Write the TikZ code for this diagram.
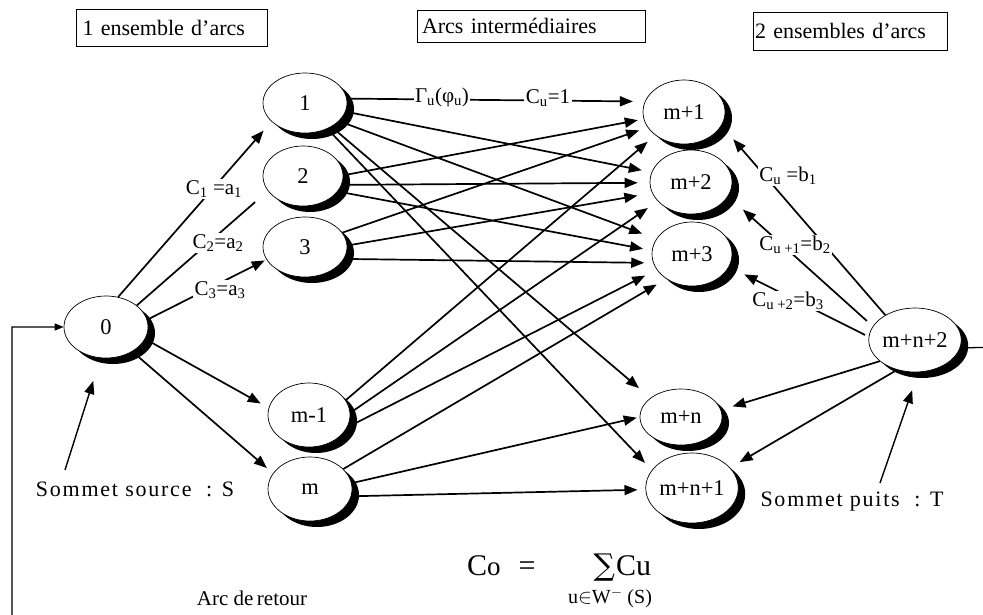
\documentclass[tikz,border=0pt]{standalone}
\usepackage{fontspec}
\setmainfont{Liberation Serif}
\newfontfamily\symfnt{DejaVu Serif}
\usetikzlibrary{shapes.geometric,arrows.meta,shadows}
\begin{document}
\begin{tikzpicture}[x=1pt,y=-1pt,
  vtx/.style={ellipse,draw,line width=0.7pt,fill=white,inner sep=0pt,
    font=\fontsize{22.5}{25}\selectfont,
    drop shadow={shadow xshift=7pt,shadow yshift=-6pt,fill=black,opacity=1}},
  arc/.style={line width=1.7pt,-{Triangle[length=13pt,width=10pt]}},
  ln/.style={line width=1.7pt},
  lab/.style={fill=white,inner sep=1.5pt,font=\fontsize{21}{23}\selectfont},
  hdr/.style={draw,line width=0.8pt,inner ysep=0pt,align=left,font=\fontsize{22}{24}\selectfont},
  txt/.style={inner sep=0pt,font=\fontsize{22}{24}\selectfont}]
\useasboundingbox (0,0) rectangle (983,614);
\fill[white] (0,0) rectangle (983,614);

% headers
\node[hdr,inner xsep=6pt,text width=179pt,minimum height=37pt] (h1) at (172,28) {1 ensemble d’arcs};
\node[hdr,inner xsep=5pt,text width=218pt,minimum height=32pt] (h2) at (531,26) {Arcs intermédiaires};
\node[hdr,inner xsep=2pt,text width=190pt,minimum height=38pt] (h3) at (850,31) {2 ensembles d’arcs};

% vertices
\node[vtx,minimum width=84pt,minimum height=62pt] (n0) at (106,327) {0};
\node[vtx,minimum width=84pt,minimum height=60pt] (n1) at (305,103) {1};
\node[vtx,minimum width=80pt,minimum height=60pt] (n2) at (303,176) {2};
\node[vtx,minimum width=84pt,minimum height=60pt] (n3) at (305,247) {3};
\node[vtx,minimum width=82pt,minimum height=64pt] (nm1) at (309,415) {m-1};
\node[vtx,minimum width=84pt,minimum height=64pt] (nm) at (310,489) {m};
\node[vtx,minimum width=82pt,minimum height=64pt] (p1) at (684,112) {m+1};
\node[vtx,minimum width=82pt,minimum height=64pt] (p2) at (691,182) {m+2};
\node[vtx,minimum width=80pt,minimum height=64pt] (p3) at (692,254) {m+3};
\node[vtx,minimum width=82pt,minimum height=56pt] (pn) at (681,417) {m+n};
\node[vtx,minimum width=88pt,minimum height=70pt] (pn1) at (692,488) {m+n+1};
\node[vtx,minimum width=86pt,minimum height=64pt] (pn2) at (915,340) {m+n+2};

% arcs from the source
\draw[arc,shorten >=12pt] (n0.68) -- (n1.209);
\draw[ln,shorten >=17pt] (n0.35) -- (n2.203);
\draw[arc,shorten >=2pt] (n0.10) -- (n3.198);
\draw[arc,shorten >=9pt] (n0.-17) -- (nm1.170);
\draw[arc,shorten >=8pt] (n0.-43) -- (nm.157);

% intermediate arcs
\draw[arc,shorten >=12pt] (n1.6) -- (p1.165);
\draw[arc,shorten >=10pt] (n1.-12) -- (p2.166);
\draw[arc,shorten >=15pt] (n1.-28) -- (p3.157);
\draw[arc,shorten >=15pt] (n1.-42) -- (pn.148);
\draw[arc,shorten >=10pt] (n1.-49) -- (pn1.156);

\draw[arc,shorten >=6pt] (n2.1) -- (p1.190);
\draw[arc,shorten >=12pt] (n2.-13) -- (p2.181);
\draw[arc,shorten >=9pt] (n2.-24) -- (p3.175);

\draw[arc,shorten >=9pt] (n3.21) -- (p1.203);
\draw[arc,shorten >=15pt] (n3.2) -- (p2.196);
\draw[arc,shorten >=9pt] (n3.-17) -- (p3.193);

\draw[arc,shorten >=10pt] (nm1.22) -- (p1.219);
\draw[arc,shorten >=12pt] (nm1.3) -- (p2.210);
\draw[arc,shorten >=13pt] (nm1.-18) -- (p3.204);

\draw[arc,shorten >=11pt] (nm.31) -- (p3.224);
\draw[arc,shorten >=3pt] (nm.8) -- (pn.180);
\draw[arc,shorten >=8pt] (nm.-10) -- (pn1.182);

% arcs from the sink side
\draw[arc,shorten >=18pt] (pn2.140) -- (p1.-20);
\draw[arc,shorten <=8pt,shorten >=20pt] (pn2.162) -- (p2.-21);
\draw[arc,shorten <=4pt,shorten >=17pt] (pn2.176) -- (p3.-19);
\draw[arc,shorten >=12pt] (pn2.211) -- (pn.10);
\draw[arc,shorten >=11pt] (pn2.239) -- (pn1.28);

% return arc
\coordinate (rA) at (1000,347);
\coordinate (rB) at (1000,640);
\coordinate (rC) at (12,640);
\draw[line width=1.3pt,-{Triangle[length=9pt,width=7pt]}] (pn2.-10) -- (rA) -- (rB) -- (rC) |- (n0.west);

% source and sink pointers
\coordinate (sA) at (65,470);
\draw[arc,line width=1.4pt,shorten >=24pt] (sA) -- (n0.-100);
\coordinate (tA) at (880,483);
\draw[arc,line width=1.4pt,shorten >=19pt] (tA) -- (pn2.-84);

% labels
\node[lab] (l1) at (214,189) {C\textsubscript{1} =a\textsubscript{1}};
\node[lab] (l2) at (218,243) {C\textsubscript{2}=a\textsubscript{2}};
\node[lab] (l3) at (220,290) {C\textsubscript{3}=a\textsubscript{3}};
\node[lab] (lg) at (442,97) {Γ\textsubscript{u}(φ\textsubscript{u})};
\node[lab] (lc) at (548,98) {C\textsubscript{u}=1};
\node[lab] (b1) at (788,176) {C\textsubscript{u} =b\textsubscript{1}};
\node[lab] (b2) at (795,245) {C\textsubscript{u +1}=b\textsubscript{2}};
\node[lab] (b3) at (788,301) {C\textsubscript{u +2}=b\textsubscript{3}};

\node[txt,font=\fontsize{22}{24}\selectfont\addfontfeature{LetterSpace=8}] (src) at (135,489) {Sommet source~ : S};
\node[txt,font=\fontsize{22}{24}\selectfont\addfontfeature{LetterSpace=8}] (snk) at (852,502) {Sommet puits~ : T};
\node[txt,font=\fontsize{21}{23}\selectfont] (ret) at (252,598) {Arc de\,retour};

% formula
\node[inner sep=0pt,anchor=base west] (fm) at (467,575) {\fontsize{30}{32}\selectfont C{\fontsize{27}{30}\selectfont o}\hspace{18pt}=\hspace{58pt}{\symfnt\fontsize{30}{30}\selectfont ∑}\kern1pt Cu};
\node[txt,font=\fontsize{20}{22}\selectfont] (fs) at (610,598) {u$\in$W$^{-}$ (S)};
\end{tikzpicture}
\end{document}
